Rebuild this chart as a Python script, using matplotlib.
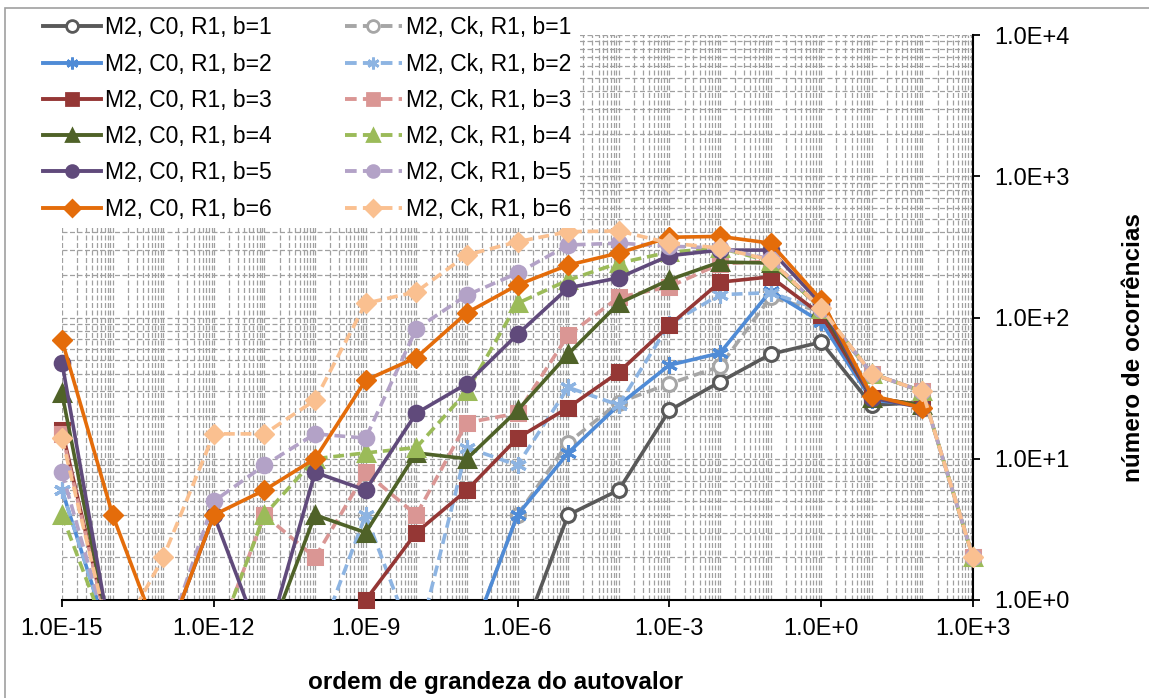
import numpy as np
import matplotlib
matplotlib.use("Agg")
import matplotlib.pyplot as plt
from matplotlib.lines import Line2D
from matplotlib.patches import Rectangle
from matplotlib.ticker import LogLocator, FixedLocator, FuncFormatter, NullFormatter

plt.rcParams['font.family'] = ['Liberation Sans', 'DejaVu Sans']

# ordem de grandeza: 1E-15 ... 1E+3
expoentes = np.arange(-15, 4)
nan = np.nan

# número de ocorrências, matriz M2, R1 (0 = nenhuma ocorrência)
c0_b1 = [0, 0, 0, 0, 0, 0, 0, 0, 0, 0, 4, 6, 22, 35, 55, 67, 24, 25, nan]
c0_b2 = [6, 0, 0, 0, 0, 0, 0, 0, 0, 4, 11, 24, 46, 56, 154, 93, 26, 24, nan]
c0_b3 = [16, 0, 0, 0, 0, 0, 1, 3, 6, 14, 23, 41, 88, 178, 194, 105, 27, 24, nan]
c0_b4 = [29, 0, 0, 0, 0, 4, 3, 11, 10, 22, 55, 126, 185, 247, 243, 118, 27, 24, nan]
c0_b5 = [48, 0, 0, 4, 0, 8, 6, 21, 34, 76, 162, 191, 274, 300, 300, 125, 27, 23, nan]
c0_b6 = [69, 4, 0, 4, 6, 10, 36, 52, 108, 170, 235, 286, 370, 375, 336, 133, 28, 23, nan]

ck_b1 = [0, 0, 0, 0, 0, 0, 0, 0, 0, 4, 13, 25, 34, 45, 139, 110, 40, 30, 2]
ck_b2 = [6, 0, 0, 0, 0, 0, 4, 0, 12, 9, 32, 24, 90, 145, 150, 113, 40, 30, 2]
ck_b3 = [15, 0, 0, 0, 4, 2, 8, 4, 18, 21, 75, 139, 165, 240, 250, 115, 40, 30, 2]
ck_b4 = [4, 0, 0, 0, 4, 10, 11, 12, 30, 126, 184, 243, 290, 310, 250, 115, 40, 30, 2]
ck_b5 = [8, 0, 0, 5, 9, 15, 14, 83, 144, 206, 326, 336, 320, 310, 260, 115, 40, 30, 2]
ck_b6 = [14, 0, 2, 15, 15, 26, 126, 152, 277, 344, 405, 410, 337, 310, 255, 116, 40, 30, 2]

c0 = [c0_b1, c0_b2, c0_b3, c0_b4, c0_b5, c0_b6]
ck = [ck_b1, ck_b2, ck_b3, ck_b4, ck_b5, ck_b6]

cores_c0 = ['#595959', '#4F8BD6', '#953735', '#4F6228', '#604A7B', '#E46C0A']
cores_ck = ['#A6A6A6', '#8DB4E2', '#DA9694', '#9BBB59', '#B3A2C7', '#FAC090']
marcadores = ['o', (6, 2, 0), 's', '^', 'o', 'D']
tamanhos = [10, 12, 9.5, 11, 10.5, 10]

x = 10.0 ** expoentes

fig = plt.figure(figsize=(11.49, 6.98), dpi=100)
ax = fig.add_axes([62 / 1149, 98 / 698, 911 / 1149, 565 / 698])

# moldura do gráfico
fig.patches.append(Rectangle((5 / 1149, -0.05), 1.2, 0.05 + 1 - 8 / 698,
                             transform=fig.transFigure, fill=False,
                             edgecolor='#A0A0A0', lw=1.2))


def desenha(vals, cor, marc, ms, tracejado, zo):
    v = np.array(vals, dtype=float)
    # zeros não existem na escala log: a linha desce para fora do gráfico
    linha = np.where(v == 0, 0.45, v)
    ls = (0, (3, 1.6)) if tracejado else '-'
    ax.plot(x, linha, color=cor, lw=2.6, ls=ls, zorder=zo, solid_joinstyle='round')
    ok = v > 0
    fc = 'white' if marc == 'o' and ms == 10 else cor
    ax.plot(x[ok], v[ok], ls='none', marker=marc, ms=ms, color=cor,
            mfc=fc, mec=cor, mew=2.2 if fc == 'white' or marc != 'D' else 1,
            clip_on=False, zorder=zo + 0.5)


zo = 3
for i in range(6):
    desenha(c0[i], cores_c0[i], marcadores[i], tamanhos[i], False, zo)
    zo += 1
    desenha(ck[i], cores_ck[i], marcadores[i], tamanhos[i], True, zo)
    zo += 1

ax.set_xscale('log')
ax.set_yscale('log')
ax.set_xlim(1e-15, 1e3)
ax.set_ylim(1, 1e4)


def fmt(v, pos):
    e = int(round(np.log10(v)))
    return f"1.0E{e:+d}"


ax.xaxis.set_major_locator(FixedLocator(x[::3]))
ax.xaxis.set_minor_locator(LogLocator(base=10, subs=np.arange(1, 10), numticks=300))
ax.yaxis.set_major_locator(FixedLocator(10.0 ** np.arange(0, 5)))
ax.yaxis.set_minor_locator(LogLocator(base=10, subs=np.arange(1, 10), numticks=300))
ax.xaxis.set_major_formatter(FuncFormatter(fmt))
ax.yaxis.set_major_formatter(FuncFormatter(fmt))
ax.xaxis.set_minor_formatter(NullFormatter())
ax.yaxis.set_minor_formatter(NullFormatter())

ax.yaxis.tick_right()
ax.tick_params(which='major', direction='out', length=5, width=1.3,
               labelsize=17, color='black')
ax.tick_params(axis='x', which='major', pad=8)
ax.tick_params(axis='y', which='major', pad=10)
ax.tick_params(which='minor', length=0)

ax.grid(True, which='both', color='#A0A0A0', lw=0.9, ls=(0, (4, 2)))
ax.set_axisbelow(True)

for s in ['left', 'top']:
    ax.spines[s].set_visible(False)
for s in ['bottom', 'right']:
    ax.spines[s].set_linewidth(1.5)
    ax.spines[s].set_zorder(2.5)

fig.text(495 / 1149, 1 - 682 / 698, 'ordem de grandeza do autovalor',
         ha='center', va='center', fontsize=17.5, fontweight='bold')
fig.text(1134 / 1149, 1 - 348 / 698, 'número de ocorrências', rotation=90,
         ha='center', va='center', fontsize=17.5, fontweight='bold')

# legenda: coluna 1 = C0, coluna 2 = Ck
handles = []
labels = []
for i in range(6):
    fc = 'white' if i == 0 else cores_c0[i]
    handles.append(Line2D([], [], color=cores_c0[i], lw=2.8, marker=marcadores[i],
                          ms=8.5, mfc=fc, mec=cores_c0[i], mew=2))
    labels.append(f"M2, C0, R1, b={i + 1}")
for i in range(6):
    fc = 'white' if i == 0 else cores_ck[i]
    handles.append(Line2D([], [], color=cores_ck[i], lw=2.8, ls=(0, (3, 1.6)),
                          marker=marcadores[i], ms=8.5, mfc=fc, mec=cores_ck[i], mew=2))
    labels.append(f"M2, Ck, R1, b={i + 1}")

leg = fig.legend(handles, labels, loc='upper left', bbox_to_anchor=(25 / 1149, 1 + 2 / 698),
                 ncol=2, fontsize=16.5, handlelength=2.5, handletextpad=0.17,
                 columnspacing=3.2, labelspacing=0.58, borderpad=0.3,
                 frameon=True, fancybox=False, framealpha=1)
leg.get_frame().set_facecolor('white')
leg.get_frame().set_edgecolor('none')

fig.savefig('out.png', dpi=100)
